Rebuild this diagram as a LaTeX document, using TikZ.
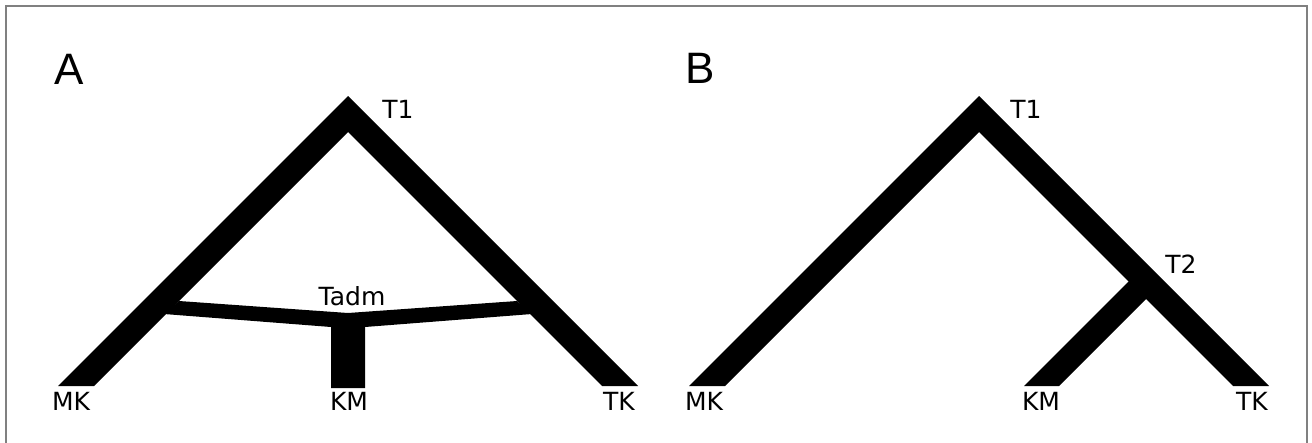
\documentclass[tikz,border=0pt]{standalone}
\usepackage{fontspec}
\setmainfont{DejaVu Sans}
\newfontfamily\panelfont{Liberation Sans}
\begin{document}
\begin{tikzpicture}[x=1pt,y=-1pt,font=\fontsize{25}{25}\selectfont]
\tikzset{lbl/.style={anchor=base,inner sep=0pt},
  panel/.style={anchor=base west,inner sep=0pt,font=\panelfont\fontsize{44}{44}\selectfont},
  branch/.style={fill=black,draw=none},
  frame/.style={draw=gray,line width=2pt}}
\useasboundingbox (0,0) rectangle (1312,442);
\clip (0,0) rectangle (1312,442);
\path[frame] (6.,6.) rectangle (1307.,470.);
% panel A
\path (348.,96.) coordinate(T1o_A);
\path (348.,132.) coordinate(T1i_A);
\path (58.,386.) coordinate(MKo_A);
\path (94.,386.) coordinate(MKi_A);
\path (638.,386.) coordinate(TKo_A);
\path (602.,386.) coordinate(TKi_A);
\path (179.,301.) coordinate(Lu_A);
\path (164.,314.) coordinate(Ll_A);
\path (517.,301.) coordinate(Ru_A);
\path (532.,314.) coordinate(Rl_A);
\path (348.,313.) coordinate(Tadm_A);
\path (331.,327.) coordinate(KMl_A);
\path (365.,327.) coordinate(KMr_A);
\path (331.,388.) coordinate(KMbl_A);
\path (365.,388.) coordinate(KMbr_A);
\fill[branch] (MKo_A) -- (T1o_A) -- (TKo_A) -- (TKi_A) -- (T1i_A) -- (MKi_A) -- cycle;
\fill[branch] (Lu_A) -- (Tadm_A) -- (Ru_A) -- (Rl_A) -- (KMr_A) -- (KMbr_A) -- (KMbl_A) -- (KMl_A) -- (Ll_A) -- cycle;
% panel B
\path (979.,96.) coordinate(T1o_B);
\path (979.,132.) coordinate(T1i_B);
\path (689.,386.) coordinate(MKo_B);
\path (725.,386.) coordinate(MKi_B);
\path (1269.,386.) coordinate(TKo_B);
\path (1233.,386.) coordinate(TKi_B);
\path (1140.,270.) coordinate(T2u_B);
\path (1158.,287.) coordinate(T2l_B);
\path (1024.,386.) coordinate(KMl_B);
\path (1059.,386.) coordinate(KMr_B);
\fill[branch] (MKo_B) -- (T1o_B) -- (TKo_B) -- (TKi_B) -- (T1i_B) -- (MKi_B) -- cycle;
\fill[branch] (KMl_B) -- (T2u_B) -- (T2l_B) -- (KMr_B) -- cycle;
% labels
\path (54.,84.) node(A) [panel] {A};
\path (685.,83.) node(B) [panel] {B};
\path (398.,118.) node(T1_A) [lbl] {T1};
\path (352.,305.) node(Tadm) [lbl] {Tadm};
\path (71.,410.) node(MK_A) [lbl] {MK};
\path (349.,410.) node(KM_A) [lbl] {KM};
\path (619.,410.) node(TK_A) [lbl] {TK};
\path (1026.,118.) node(T1_B) [lbl] {T1};
\path (1181.,273.) node(T2_B) [lbl] {T2};
\path (704.,410.) node(MK_B) [lbl] {MK};
\path (1041.,410.) node(KM_B) [lbl] {KM};
\path (1252.,410.) node(TK_B) [lbl] {TK};
\end{tikzpicture}
\end{document}
